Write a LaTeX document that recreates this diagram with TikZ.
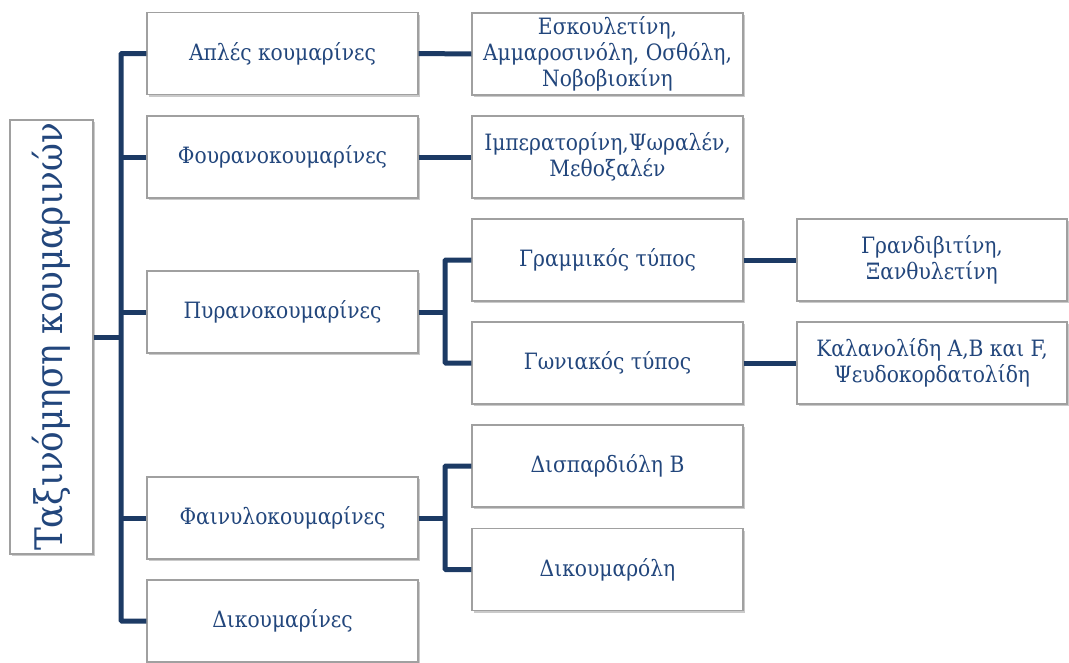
\documentclass[tikz,border=0pt]{standalone}
\usepackage{fontspec}
\setmainfont{DejaVu Serif Condensed}
\usetikzlibrary{shadows}
\definecolor{linkblue}{RGB}{28,58,100}
\definecolor{textblue}{RGB}{34,70,124}
\definecolor{boxgrey}{RGB}{160,160,160}
\tikzset{
  box/.style={draw=boxgrey, line width=1.2pt, fill=white, text=textblue,
    align=center, minimum width=271pt, minimum height=82pt, inner sep=2pt,
    font=\fontsize{22.5}{26}\selectfont,
    drop shadow={shadow xshift=2pt, shadow yshift=-2pt, opacity=0.35, fill=black!60}},
  link/.style={draw=linkblue, line width=5pt, rounded corners=1pt}
}
\begin{document}
\begin{tikzpicture}[x=1pt,y=-1pt]
  \useasboundingbox (0,0) rectangle (1069,662);
  % root
  \node[box, rotate=90, minimum width=434pt, minimum height=83pt,
    font=\fontsize{38}{42}\selectfont] (root) at (51.5,337) {Ταξινόμηση κουμαρινών};
  % first level
  \node[box] (simple) at (282.5,53.5) {Απλές κουμαρίνες};
  \node[box] (furano) at (282.5,157) {Φουρανοκουμαρίνες};
  \node[box] (pyrano) at (282.5,312) {Πυρανοκουμαρίνες};
  \node[box] (phenyl) at (282.5,518) {Φαινυλοκουμαρίνες};
  \node[box] (dicoum) at (282.5,621) {Δικουμαρίνες};
  % second level
  \node[box] (esc) at (607.5,54) {Εσκουλετίνη,\\Αμμαροσινόλη, Οσθόλη,\\Νοβοβιοκίνη};
  \node[box] (imp) at (607.5,157) {Ιμπερατορίνη,Ψωραλέν,\\Μεθοξαλέν};
  \node[box] (linear) at (607.5,260) {Γραμμικός τύπος};
  \node[box] (angular) at (607.5,363) {Γωνιακός τύπος};
  \node[box] (dispar) at (607.5,466) {Δισπαρδιόλη B};
  \node[box] (dicoumarol) at (607.5,569.5) {Δικουμαρόλη};
  % third level
  \node[box, minimum width=270pt] (grand) at (932,260) {Γρανδιβιτίνη,\\Ξανθυλετίνη};
  \node[box, minimum width=270pt] (calan) at (932,363) {Καλανολίδη A,B και F,\\Ψευδοκορδατολίδη};
  % connectors
  \coordinate (trunk) at (121,337);
  \coordinate (pyrsplit) at (445,312);
  \coordinate (phesplit) at (445,518);
  \draw[link] (root.south) -- (trunk);
  \draw[link] (simple.west) -| (trunk) |- (dicoum.west);
  \draw[link] (trunk |- furano.west) -- (furano.west);
  \draw[link] (trunk |- pyrano.west) -- (pyrano.west);
  \draw[link] (trunk |- phenyl.west) -- (phenyl.west);
  \draw[link] (simple.east) -- (esc.west);
  \draw[link] (furano.east) -- (imp.west);
  \draw[link] (pyrano.east) -- (pyrsplit);
  \draw[link] (linear.west) -| (pyrsplit) |- (angular.west);
  \draw[link] (phenyl.east) -- (phesplit);
  \draw[link] (dispar.west) -| (phesplit) |- (dicoumarol.west);
  \draw[link] (linear.east) -- (grand.west);
  \draw[link] (angular.east) -- (calan.west);
\end{tikzpicture}
\end{document}
